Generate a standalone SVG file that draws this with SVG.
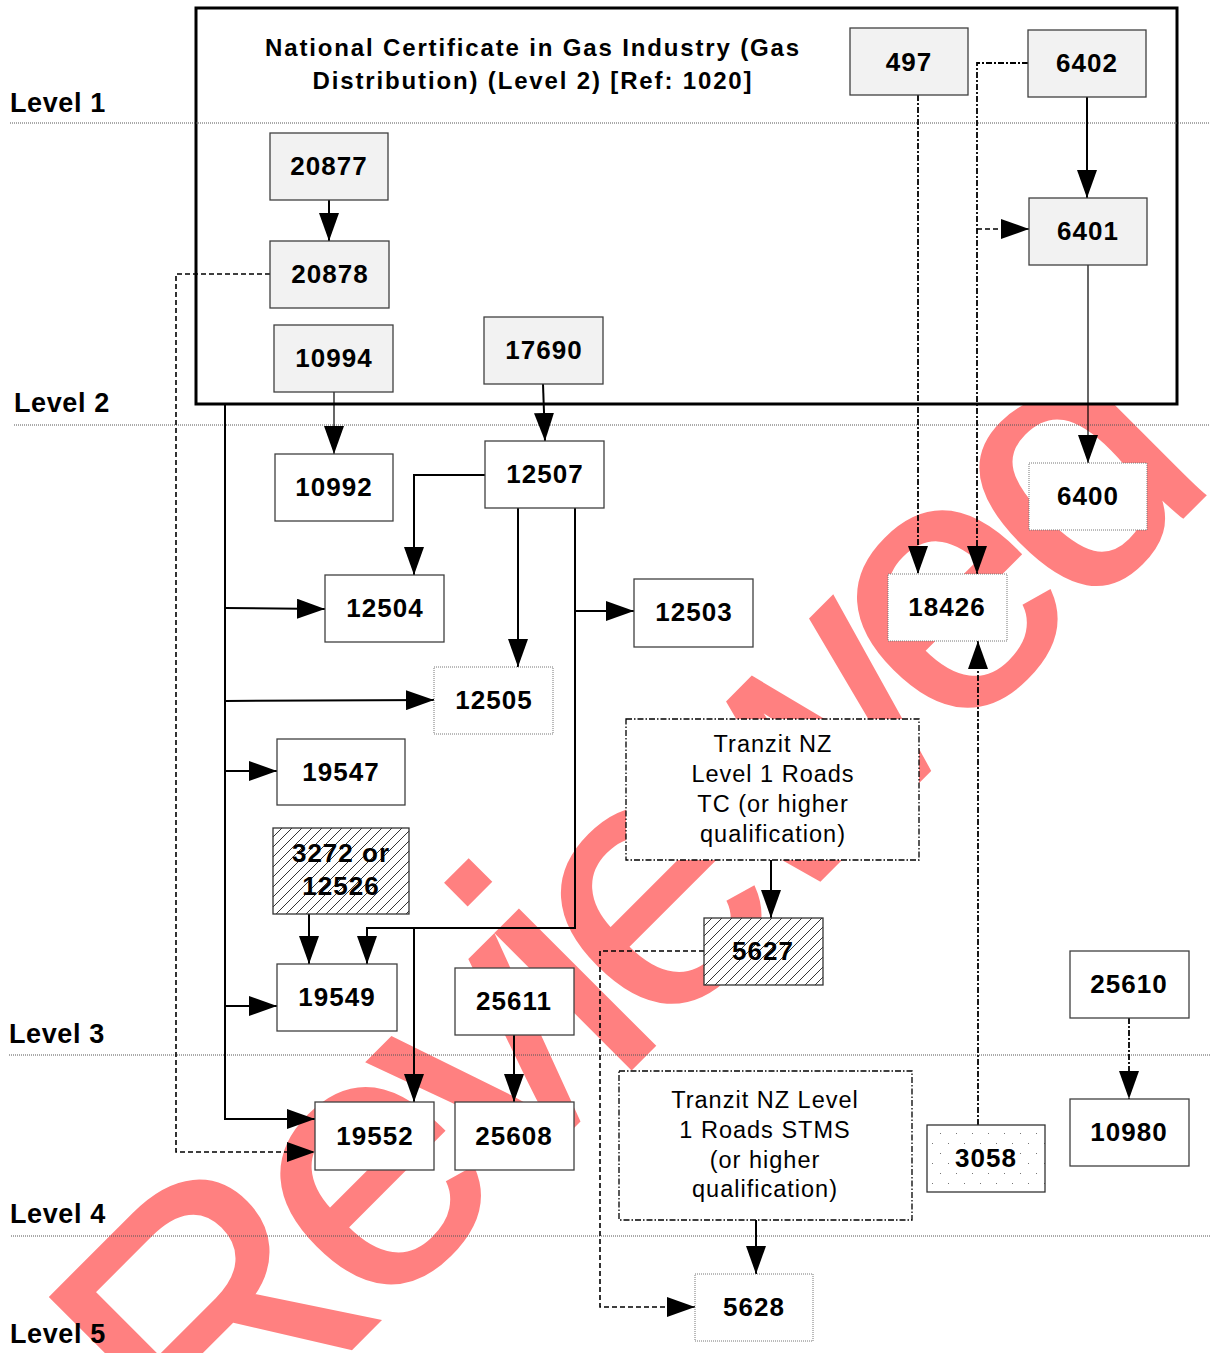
<svg xmlns="http://www.w3.org/2000/svg" width="1210" height="1353" viewBox="0 0 1210 1353">
<defs>
<style>
.bg{fill:#ffffff}
.wm{font-family:"Liberation Sans",Arial,sans-serif;font-size:362px;letter-spacing:-22px;fill:#ff8080;stroke:#ff8080;stroke-width:3}
.lvl{stroke:#555;stroke-width:1;stroke-dasharray:1,1;fill:none}
.lt{font-family:"Liberation Sans",Arial,sans-serif;font-size:27px;font-weight:bold;letter-spacing:0.6px;fill:#000}
.ttl{font-family:"Liberation Sans",Arial,sans-serif;font-size:24px;font-weight:bold;letter-spacing:1.85px;fill:#000;text-anchor:middle}
.frame{fill:#fff;stroke:#000;stroke-width:3}
.g{fill:#f2f2f2;stroke:#404040;stroke-width:1.3}
.w{fill:#fff;stroke:#404040;stroke-width:1.3}
.dot{fill:#fff;stroke:#777;stroke-width:1;stroke-dasharray:1,1}
.dd{fill:#fff;stroke:#000;stroke-width:1.3;stroke-dasharray:6,2,1.5,2}
.hat{fill:url(#hatch);stroke:#333;stroke-width:1.3}
.spk{fill:url(#speck);stroke:#333;stroke-width:1.3}
.n{font-family:"Liberation Sans",Arial,sans-serif;font-size:26px;font-weight:bold;letter-spacing:1px;fill:#000;text-anchor:middle}
.r{font-family:"Liberation Sans",Arial,sans-serif;font-size:23.5px;letter-spacing:1px;fill:#000;text-anchor:middle}
.s{fill:none;stroke:#000;stroke-width:2}
.s1{fill:none;stroke:#000;stroke-width:1.2}
.d{fill:none;stroke:#000;stroke-width:1.6;stroke-dasharray:5,3}
.dk{fill:none;stroke:#000;stroke-width:1.8;stroke-dasharray:6,2,2,2}
</style>
<pattern id="hatch" patternUnits="userSpaceOnUse" width="10" height="10">
<rect width="10" height="10" fill="#fff"/>
<path d="M-1,11 L11,-1 M-1,1 L1,-1 M9,11 L11,9" stroke="#333" stroke-width="1"/>
</pattern>
<pattern id="speck" patternUnits="userSpaceOnUse" width="16" height="20">
<rect width="16" height="20" fill="#fff"/>
<rect x="4" y="3" width="1" height="1" fill="#777"/>
<rect x="12" y="13" width="1" height="1" fill="#777"/>
</pattern>
<marker id="ah" viewBox="0 0 28 20" refX="28" refY="10" markerWidth="28" markerHeight="20" markerUnits="userSpaceOnUse" orient="auto">
<path d="M0,0 L28,10 L0,20 Z" fill="#000"/>
</marker>
</defs>
<rect class="bg" x="0" y="0" width="1210" height="1353"/>
<g id="watermark">
<text class="wm" transform="translate(206,1494) rotate(-45)">Reviewed</text>
</g>
<g id="qualification">
<rect class="frame" x="196" y="8" width="981" height="396"/>
<text class="ttl" x="533" y="56">National Certificate in Gas Industry (Gas</text>
<text class="ttl" x="533" y="89">Distribution) (Level 2) [Ref: 1020]</text>
</g>
<g id="levels">
<line class="lvl" x1="10" y1="123" x2="1210" y2="123"/>
<line class="lvl" x1="14" y1="425" x2="1210" y2="425"/>
<line class="lvl" x1="9" y1="1055" x2="1210" y2="1055"/>
<line class="lvl" x1="11" y1="1236" x2="1210" y2="1236"/>
<text class="lt" x="10" y="112">Level 1</text>
<text class="lt" x="14" y="412">Level 2</text>
<text class="lt" x="9" y="1043">Level 3</text>
<text class="lt" x="10" y="1223">Level 4</text>
<text class="lt" x="10" y="1343">Level 5</text>
</g>
<g id="connectors">
<line class="s" x1="329" y1="200" x2="329" y2="241" marker-end="url(#ah)"/>
<line class="s" x1="1087" y1="97" x2="1087" y2="198" marker-end="url(#ah)"/>
<line class="s1" x1="334" y1="392" x2="334" y2="454" marker-end="url(#ah)"/>
<line class="s" x1="543" y1="384" x2="545" y2="441" marker-end="url(#ah)"/>
<line class="s1" x1="1088" y1="265" x2="1088" y2="463" marker-end="url(#ah)"/>
<polyline class="s" points="225,404 225,1119 315,1119" marker-end="url(#ah)"/>
<line class="s" x1="225" y1="608" x2="325" y2="609" marker-end="url(#ah)"/>
<line class="s" x1="225" y1="701" x2="434" y2="700" marker-end="url(#ah)"/>
<line class="s" x1="225" y1="771" x2="277" y2="771" marker-end="url(#ah)"/>
<line class="s" x1="225" y1="1006" x2="277" y2="1006" marker-end="url(#ah)"/>
<polyline class="s" points="485,475 414,475 414,575" marker-end="url(#ah)"/>
<line class="s" x1="518" y1="508" x2="518" y2="667" marker-end="url(#ah)"/>
<polyline class="s" points="575,508 575,928 367,928 367,964" marker-end="url(#ah)"/>
<line class="s" x1="575" y1="611" x2="634" y2="611" marker-end="url(#ah)"/>
<line class="s" x1="414" y1="928" x2="414" y2="1102" marker-end="url(#ah)"/>
<line class="s" x1="309" y1="914" x2="309" y2="964" marker-end="url(#ah)"/>
<line class="s" x1="514" y1="1035" x2="514" y2="1102" marker-end="url(#ah)"/>
<line class="s" x1="771" y1="860" x2="771" y2="918" marker-end="url(#ah)"/>
<line class="s" x1="756" y1="1220" x2="756" y2="1274" marker-end="url(#ah)"/>
<polyline class="d" points="270,274 176,274 176,1152 315,1152" marker-end="url(#ah)"/>
<line class="dk" x1="918" y1="95" x2="918" y2="574" marker-end="url(#ah)"/>
<polyline class="dk" points="1028,63 977,63 977,574" marker-end="url(#ah)"/>
<line class="d" x1="977" y1="229" x2="1029" y2="229" marker-end="url(#ah)"/>
<polyline class="d" points="704,951 600,951 600,1307 695,1307" marker-end="url(#ah)"/>
<line class="dk" x1="978" y1="1125" x2="978" y2="641" marker-end="url(#ah)"/>
<line class="dk" x1="1129" y1="1018" x2="1129" y2="1099" marker-end="url(#ah)"/>
</g>
<g id="n497"><rect class="g" x="850" y="28" width="118" height="67"/><text class="n" x="909" y="71">497</text></g>
<g id="n6402"><rect class="g" x="1028" y="30" width="118" height="67"/><text class="n" x="1087" y="72">6402</text></g>
<g id="n6401"><rect class="g" x="1029" y="198" width="118" height="67"/><text class="n" x="1088" y="240">6401</text></g>
<g id="n20877"><rect class="g" x="270" y="133" width="118" height="67"/><text class="n" x="329" y="175">20877</text></g>
<g id="n20878"><rect class="g" x="270" y="241" width="119" height="67"/><text class="n" x="330" y="283">20878</text></g>
<g id="n10994"><rect class="g" x="274" y="325" width="119" height="67"/><text class="n" x="334" y="367">10994</text></g>
<g id="n17690"><rect class="g" x="484" y="317" width="119" height="67"/><text class="n" x="544" y="359">17690</text></g>
<g id="n10992"><rect class="w" x="275" y="454" width="118" height="67"/><text class="n" x="334" y="496">10992</text></g>
<g id="n12507"><rect class="w" x="485" y="441" width="119" height="67"/><text class="n" x="545" y="483">12507</text></g>
<g id="n12504"><rect class="w" x="325" y="575" width="119" height="67"/><text class="n" x="385" y="617">12504</text></g>
<g id="n12503"><rect class="w" x="634" y="579" width="119" height="68"/><text class="n" x="694" y="621">12503</text></g>
<g id="n12505"><rect class="dot" x="434" y="667" width="119" height="67"/><text class="n" x="494" y="709">12505</text></g>
<g id="n19547"><rect class="w" x="277" y="739" width="128" height="66"/><text class="n" x="341" y="781">19547</text></g>
<g id="n3272"><rect class="hat" x="273" y="828" width="136" height="86"/><text class="n" x="341" y="862">3272 or</text><text class="n" x="341" y="895">12526</text></g>
<g id="n19549"><rect class="w" x="277" y="964" width="120" height="67"/><text class="n" x="337" y="1006">19549</text></g>
<g id="n25611"><rect class="w" x="455" y="968" width="119" height="67"/><text class="n" x="514" y="1010">25611</text></g>
<g id="n19552"><rect class="w" x="315" y="1102" width="119" height="68"/><text class="n" x="375" y="1145">19552</text></g>
<g id="n25608"><rect class="w" x="455" y="1102" width="119" height="68"/><text class="n" x="514" y="1145">25608</text></g>
<g id="tranzit1"><rect class="dd" x="626" y="719" width="293" height="141"/>
<text class="r" x="773" y="752">Tranzit NZ</text><text class="r" x="773" y="782">Level 1 Roads</text><text class="r" x="773" y="812">TC (or higher</text><text class="r" x="773" y="842">qualification)</text></g>
<g id="n5627"><rect class="hat" x="704" y="918" width="119" height="67"/><text class="n" x="763" y="960">5627</text></g>
<g id="n6400"><rect class="dot" x="1029" y="463" width="118" height="67"/><text class="n" x="1088" y="505">6400</text></g>
<g id="n18426"><rect class="dot" x="888" y="574" width="119" height="67"/><text class="n" x="947" y="616">18426</text></g>
<g id="n25610"><rect class="w" x="1070" y="951" width="119" height="67"/><text class="n" x="1129" y="993">25610</text></g>
<g id="n10980"><rect class="w" x="1070" y="1099" width="119" height="67"/><text class="n" x="1129" y="1141">10980</text></g>
<g id="n3058"><rect class="spk" x="927" y="1125" width="118" height="67"/><text class="n" x="986" y="1167">3058</text></g>
<g id="tranzit2"><rect class="dd" x="619" y="1071" width="293" height="149"/>
<text class="r" x="765" y="1108">Tranzit NZ Level</text><text class="r" x="765" y="1138">1 Roads STMS</text><text class="r" x="765" y="1168">(or higher</text><text class="r" x="765" y="1197">qualification)</text></g>
<g id="n5628"><rect class="dot" x="695" y="1274" width="118" height="67"/><text class="n" x="754" y="1316">5628</text></g>
</svg>
